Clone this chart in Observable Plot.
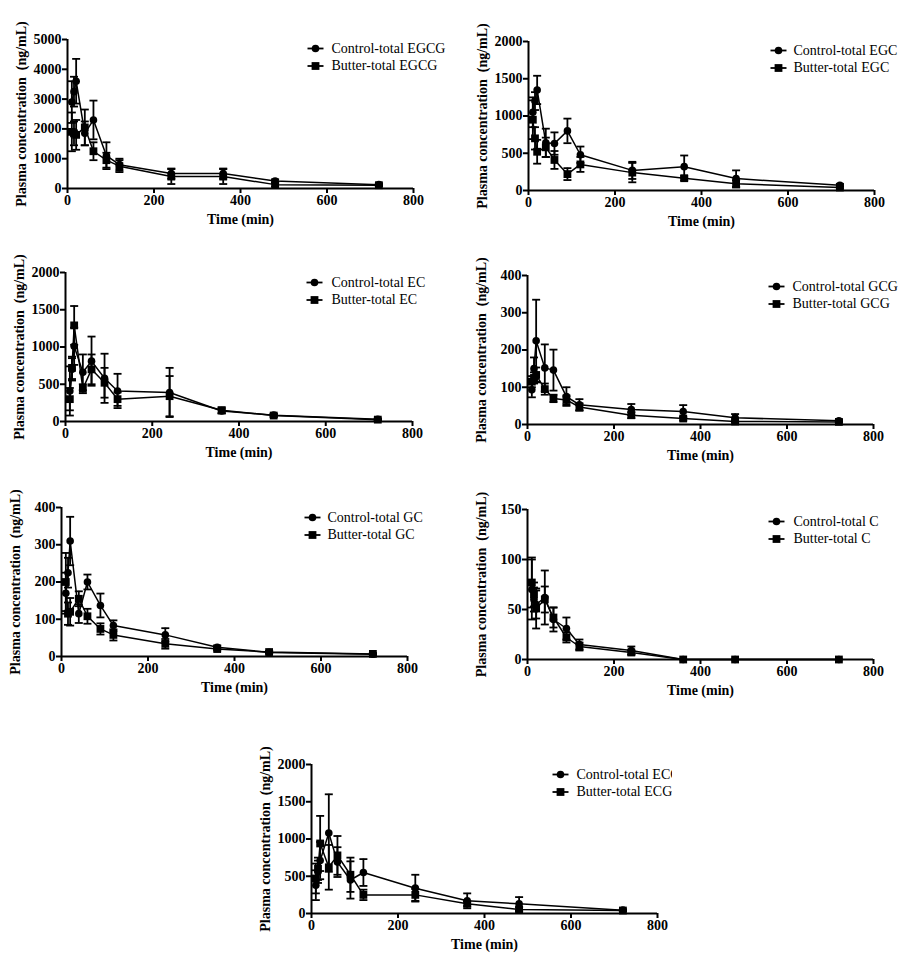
<!DOCTYPE html>
<html><head><meta charset="utf-8">
<script src="https://cdn.jsdelivr.net/npm/d3@7"></script>
<script src="https://cdn.jsdelivr.net/npm/@observablehq/plot@0.6"></script>
<style>
body{margin:0;background:#fff;}
#wrap{position:relative;width:898px;height:953px;overflow:hidden;background:#fff;}
.panel{position:absolute;overflow:hidden;}
.panel svg{overflow:visible;max-width:none !important;}
</style>
</head><body><div id="wrap"></div>
<script>
// ---- data ----
const times = [10, 15, 20, 40, 60, 90, 120, 240, 360, 480, 720];
const xTicks = [0, 200, 400, 600, 800];
const yTicks5000 = [0, 1000, 2000, 3000, 4000, 5000];
const yTicks2000 = [0, 500, 1000, 1500, 2000];
const yTicks400 = [0, 100, 200, 300, 400];
const yTicks150 = [0, 50, 100, 150];

const egcgControl   = [2900, 3250, 3600, 1850, 2300, 1100, 800, 500, 500, 250, 130];
const egcgControlSD = [700, 500, 750, 400, 650, 450, 200, 170, 170, 60, 40];
const egcgButter    = [1900, 1850, 1800, 2050, 1250, 950, 750, 400, 400, 130, 110];
const egcgButterSD  = [650, 400, 500, 600, 300, 250, 200, 250, 250, 60, 30];

const egcControl   = [1050, 1200, 1350, 640, 630, 800, 480, 270, 320, 160, 70];
const egcControlSD = [200, 120, 190, 190, 150, 165, 110, 115, 150, 110, 20];
const egcButter    = [950, 700, 520, 580, 410, 220, 350, 240, 165, 90, 40];
const egcButterSD  = [260, 150, 160, 130, 120, 80, 100, 130, 30, 50, 15];

const ecControl   = [410, 700, 1010, 660, 810, 580, 410, 390, 140, 85, 30];
const ecControlSD = [330, 150, 250, 240, 330, 330, 230, 330, 30, 20, 10];
const ecButter    = [300, 720, 1290, 440, 700, 520, 300, 340, 150, 80, 25];
const ecButterSD  = [150, 150, 260, 60, 200, 200, 90, 270, 40, 20, 10];

const gcgControl   = [93, 150, 225, 152, 146, 75, 53, 40, 35, 18, 10];
const gcgControlSD = [20, 30, 110, 63, 55, 25, 15, 15, 17, 10, 3];
const gcgButter    = [115, 125, 133, 95, 70, 66, 47, 25, 16, 8, 7];
const gcgButterSD  = [15, 15, 20, 15, 10, 12, 10, 8, 5, 3, 2];

const gcControl   = [170, 225, 310, 115, 200, 137, 83, 58, 25, 11, 6];
const gcControlSD = [55, 40, 65, 25, 20, 32, 14, 18, 5, 3, 2];
const gcButter    = [200, 115, 120, 155, 108, 74, 58, 34, 20, 12, 7];
const gcButterSD  = [78, 30, 37, 20, 20, 15, 15, 13, 4, 3, 2];

const cControl   = [70, 60, 55, 62, 40, 31, 15, 9, 0, 0, 0];
const cControlSD = [30, 12, 14, 27, 12, 11, 5, 4, 0, 0, 0];
const cButter    = [77, 65, 51, 60, 42, 22, 13, 7, 0, 0, 0];
const cButterSD  = [25, 12, 20, 13, 10, 5, 4, 2, 0, 0, 0];

const ecgControl   = [380, 560, 710, 1080, 690, 450, 550, 340, 170, 130, 45];
const ecgControlSD = [200, 150, 250, 520, 200, 250, 180, 180, 100, 90, 10];
const ecgButter    = [470, 600, 940, 620, 780, 520, 250, 250, 130, 55, 40];
const ecgButterSD  = [200, 150, 370, 300, 260, 230, 70, 80, 30, 30, 10];

const yTitle = "Plasma concentration  (ng/mL)";
const xTitle = "Time (min)";

// ---- layout (page px): plot frame L,T,R,B ; legend marker x, text x, row y ----
const panels = [
  {cmp:"EGCG", c:egcgControl, cs:egcgControlSD, b:egcgButter, bs:egcgButterSD, yMax:5000, yTicks:yTicks5000, L:67, T:39, R:413, B:188, mx:315, tx:331, ly:48, clip:898},
  {cmp:"EGC", c:egcControl, cs:egcControlSD, b:egcButter, bs:egcButterSD, yMax:2000, yTicks:yTicks2000, L:528, T:41, R:874, B:190, mx:778, tx:793, ly:50, clip:898},
  {cmp:"EC", c:ecControl, cs:ecControlSD, b:ecButter, bs:ecButterSD, yMax:2000, yTicks:yTicks2000, L:65, T:272, R:412, B:421, mx:314, tx:331, ly:282, clip:898},
  {cmp:"GCG", c:gcgControl, cs:gcgControlSD, b:gcgButter, bs:gcgButterSD, yMax:400, yTicks:yTicks400, L:527, T:275, R:873, B:424, mx:776, tx:792, ly:286, clip:898},
  {cmp:"GC", c:gcControl, cs:gcControlSD, b:gcButter, bs:gcButterSD, yMax:400, yTicks:yTicks400, L:61, T:507, R:407, B:656, mx:312, tx:327, ly:517, clip:898},
  {cmp:"C", c:cControl, cs:cControlSD, b:cButter, bs:cButterSD, yMax:150, yTicks:yTicks150, L:527, T:509, R:873, B:659, mx:776, tx:793, ly:521, clip:898},
  {cmp:"ECG", c:ecgControl, cs:ecgControlSD, b:ecgButter, bs:ecgButterSD, yMax:2000, yTicks:yTicks2000, L:311, T:764, R:657, B:913, mx:560, tx:576, ly:774, clip:672}
];

const hline = {draw(ctx, size){ const w = Math.sqrt(size/Math.PI); ctx.moveTo(-w,0); ctx.lineTo(w,0); }};
const rowGap = 17.5;
const font = "'Liberation Serif','Times New Roman',serif";

const wrap = document.getElementById("wrap");
for (const p of panels) {
  const ml = 64, mt = 34, mr = 110, mb = 40;
  const w = p.R - p.L, h = p.B - p.T;
  const rows = (vals, sds, group) => times.map((t, i) => ({t, v: vals[i], sd: sds[i], g: group}));
  const ctrl = rows(p.c, p.cs, "c"), butt = rows(p.b, p.bs, "b");
  const all = ctrl.concat(butt);
  const withErr = all.filter(d => d.sd > 0);
  const lw = 2;
  const chart = Plot.plot({
    width: ml + w + mr, height: mt + h + mb,
    marginLeft: ml, marginRight: mr, marginTop: mt, marginBottom: mb,
    style: {fontFamily: font, fontSize: "14px", color: "black", background: "transparent", overflow: "visible", maxWidth: "none"},
    x: {domain: [0, 800]},
    y: {domain: [0, p.yMax]},
    marks: [
      Plot.axisX({ticks: xTicks, tickSize: 5, tickPadding: 2, label: null, strokeWidth: lw, fontWeight: "bold", tickFormat: d3.format("d")}),
      Plot.axisY({ticks: p.yTicks, tickSize: 5, tickPadding: 1, label: null, strokeWidth: lw, fontWeight: "bold", tickFormat: d3.format("d")}),
      Plot.ruleX([0], {strokeWidth: lw}),
      Plot.ruleY([0], {strokeWidth: lw}),
      Plot.line(ctrl, {x: "t", y: "v", stroke: "black", strokeWidth: 1.5}),
      Plot.line(butt, {x: "t", y: "v", stroke: "black", strokeWidth: 1.5}),
      Plot.ruleX(withErr, {x: "t", y1: d => Math.max(0, d.v - d.sd), y2: d => d.v + d.sd, stroke: "black", strokeWidth: 1.8}),
      Plot.dot(withErr, {x: "t", y: d => d.v + d.sd, symbol: hline, r: 4, stroke: "black", fill: "none", strokeWidth: 1.8}),
      Plot.dot(withErr.filter(d => d.v - d.sd > 0), {x: "t", y: d => d.v - d.sd, symbol: hline, r: 4, stroke: "black", fill: "none", strokeWidth: 1.8}),
      Plot.dot(ctrl, {x: "t", y: "v", symbol: "circle", r: 3.8, fill: "black", stroke: "none"}),
      Plot.dot(butt, {x: "t", y: "v", symbol: "square", r: 4.4, fill: "black", stroke: "none"}),
      // axis titles
      Plot.text([yTitle], {frameAnchor: "left", rotate: -90, dx: -46, textAnchor: "middle", lineAnchor: "middle", fontWeight: "bold", fontSize: 14, fill: "black"}),
      Plot.text([xTitle], {frameAnchor: "bottom", dy: 31, textAnchor: "middle", lineAnchor: "middle", fontWeight: "bold", fontSize: 14, fill: "black"}),
      // legend
      Plot.dot([0], {frameAnchor: "top-left", dx: p.mx - p.L, dy: p.ly - p.T, symbol: hline, r: 8, stroke: "black", strokeWidth: 1.8, fill: "none"}),
      Plot.dot([1], {frameAnchor: "top-left", dx: p.mx - p.L, dy: p.ly - p.T + rowGap, symbol: hline, r: 8, stroke: "black", strokeWidth: 1.8, fill: "none"}),
      Plot.dot([0], {frameAnchor: "top-left", dx: p.mx - p.L, dy: p.ly - p.T, symbol: "circle", r: 3.8, fill: "black"}),
      Plot.dot([1], {frameAnchor: "top-left", dx: p.mx - p.L, dy: p.ly - p.T + rowGap, symbol: "square", r: 4.4, fill: "black"}),
      Plot.text([`Control-total ${p.cmp}`], {frameAnchor: "top-left", dx: p.tx - p.L, dy: p.ly - p.T, textAnchor: "start", lineAnchor: "middle", fontSize: 14, fill: "black"}),
      Plot.text([`Butter-total ${p.cmp}`], {frameAnchor: "top-left", dx: p.tx - p.L, dy: p.ly - p.T + rowGap, textAnchor: "start", lineAnchor: "middle", fontSize: 14, fill: "black"})
    ]
  });
  const div = document.createElement("div");
  div.className = "panel";
  const left = p.L - ml, top = p.T - mt;
  div.style.left = left + "px";
  div.style.top = top + "px";
  div.style.width = Math.min(ml + w + mr, p.clip - left) + "px";
  div.style.height = (mt + h + mb) + "px";
  div.appendChild(chart);
  wrap.appendChild(div);
}
</script>
</body></html>
